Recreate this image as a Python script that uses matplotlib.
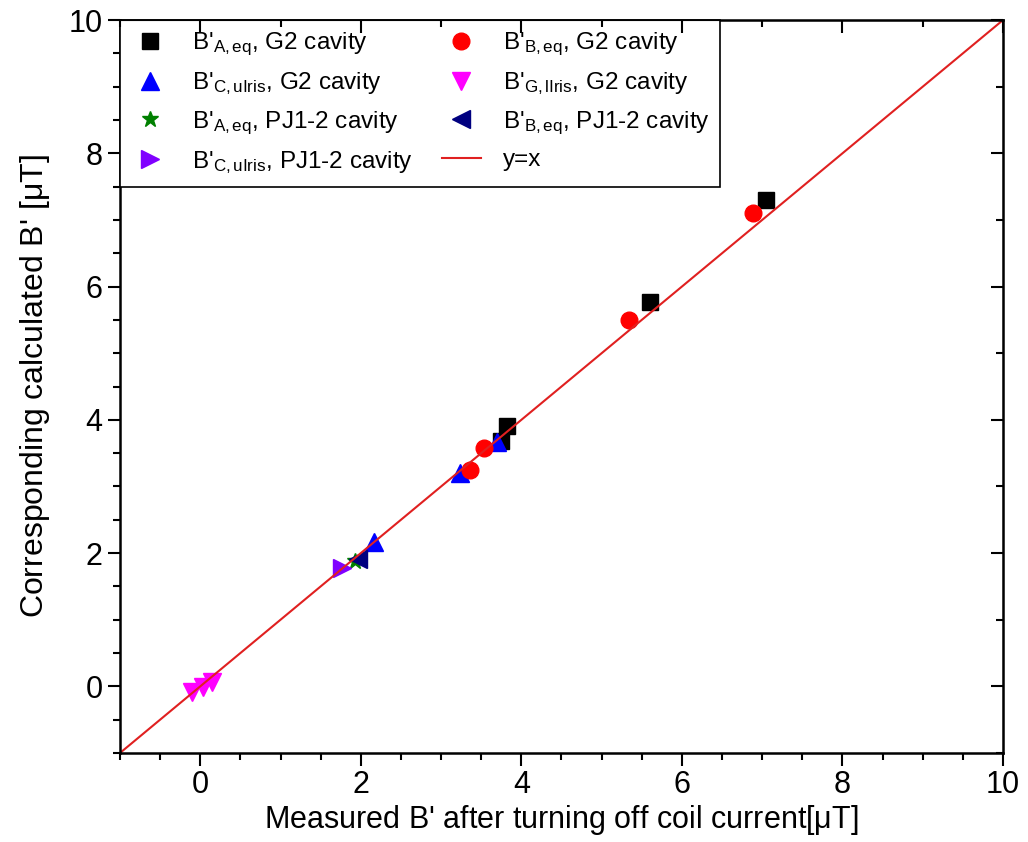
import numpy as np
import matplotlib.pyplot as plt
from matplotlib.ticker import MultipleLocator

plt.rcParams['font.family'] = ['Liberation Sans', 'DejaVu Sans']
plt.rcParams['mathtext.fontset'] = 'custom'
plt.rcParams['mathtext.rm'] = 'Liberation Sans'
plt.rcParams['mathtext.it'] = 'Liberation Sans'

# measured vs calculated B' (uT)
a_g2_x = [3.82, 3.75, 5.60, 7.05]
a_g2_y = [3.90, 3.68, 5.77, 7.30]
b_g2_x = [3.36, 3.53, 5.34, 6.89]
b_g2_y = [3.25, 3.58, 5.50, 7.11]
c_g2_x = [2.16, 3.23, 3.70]
c_g2_y = [2.16, 3.20, 3.66]
g_g2_x = [-0.10, 0.04, 0.15]
g_g2_y = [-0.08, -0.01, 0.07]
a_pj_x = [1.93]
a_pj_y = [1.88]
b_pj_x = [1.96]
b_pj_y = [1.91]
c_pj_x = [1.77]
c_pj_y = [1.77]
line_x = [-1, 10]

fig = plt.figure(figsize=(10.28, 8.42), dpi=100)
ax = fig.add_axes([0.1167, 0.1057, 0.859, 0.8705])

ax.plot(a_g2_x, a_g2_y, 's', color='black', ms=11, ls='none',
        label=r"B'$_{\mathrm{A,eq}}$, G2 cavity")
ax.plot(c_g2_x, c_g2_y, '^', color='blue', ms=13, ls='none',
        label=r"B'$_{\mathrm{C,uIris}}$, G2 cavity")
ax.plot(a_pj_x, a_pj_y, '*', color='green', ms=12, ls='none',
        label=r"B'$_{\mathrm{A,eq}}$, PJ1-2 cavity")
ax.plot(c_pj_x, c_pj_y, '>', color='#8000ff', ms=13, ls='none',
        label=r"B'$_{\mathrm{C,uIris}}$, PJ1-2 cavity")
ax.plot(b_g2_x, b_g2_y, 'o', color='red', ms=12, ls='none',
        label=r"B'$_{\mathrm{B,eq}}$, G2 cavity")
ax.plot(g_g2_x, g_g2_y, 'v', color='magenta', ms=13, ls='none',
        label=r"B'$_{\mathrm{G,lIris}}$, G2 cavity")
ax.plot(b_pj_x, b_pj_y, '<', color='#000080', ms=13, ls='none',
        label=r"B'$_{\mathrm{B,eq}}$, PJ1-2 cavity")
ax.plot(line_x, line_x, '-', color='#e02020', lw=1.5, label='y=x')

ax.set_xlim(-1, 10)
ax.set_ylim(-1, 10)
ax.xaxis.set_major_locator(MultipleLocator(2))
ax.xaxis.set_minor_locator(MultipleLocator(0.5))
ax.yaxis.set_major_locator(MultipleLocator(2))
ax.yaxis.set_minor_locator(MultipleLocator(0.5))
ax.tick_params(which='both', direction='out', width=1.5, labelsize=22,
               top=False, right=False)
ax.tick_params(which='major', length=9)
ax.tick_params(which='minor', length=5)
for s in ax.spines.values():
    s.set_linewidth(1.8)

# inward ticks on top and right
ax2 = ax.secondary_xaxis('top')
ax2.xaxis.set_major_locator(MultipleLocator(2))
ax2.xaxis.set_minor_locator(MultipleLocator(1))
ax2.tick_params(which='both', direction='in', width=1.5, labeltop=False)
ax2.tick_params(which='major', length=9)
ax2.tick_params(which='minor', length=5)
ax2.set_zorder(6)
ay2 = ax.secondary_yaxis('right')
ay2.yaxis.set_major_locator(MultipleLocator(2))
ay2.yaxis.set_minor_locator(MultipleLocator(1))
ay2.tick_params(which='both', direction='in', width=1.5, labelright=False)
ay2.tick_params(which='major', length=9)
ay2.tick_params(which='minor', length=5)

ax.set_xlabel(r"Measured B' after turning off coil current[$\mathrm{\mu}$T]",
              fontsize=22, labelpad=2)
ax.set_ylabel(r"Corresponding calculated B' [$\mathrm{\mu}$T]",
              fontsize=23, labelpad=12)

leg = ax.legend(loc='upper left', ncol=2, fontsize=17.5, frameon=True,
                fancybox=False, edgecolor='black', borderaxespad=0,
                framealpha=1, handlelength=1.6, columnspacing=1.2,
                labelspacing=0.5, borderpad=0.45, handletextpad=0.9)
leg.get_frame().set_linewidth(1.2)

fig.savefig('out.png', dpi=100)
